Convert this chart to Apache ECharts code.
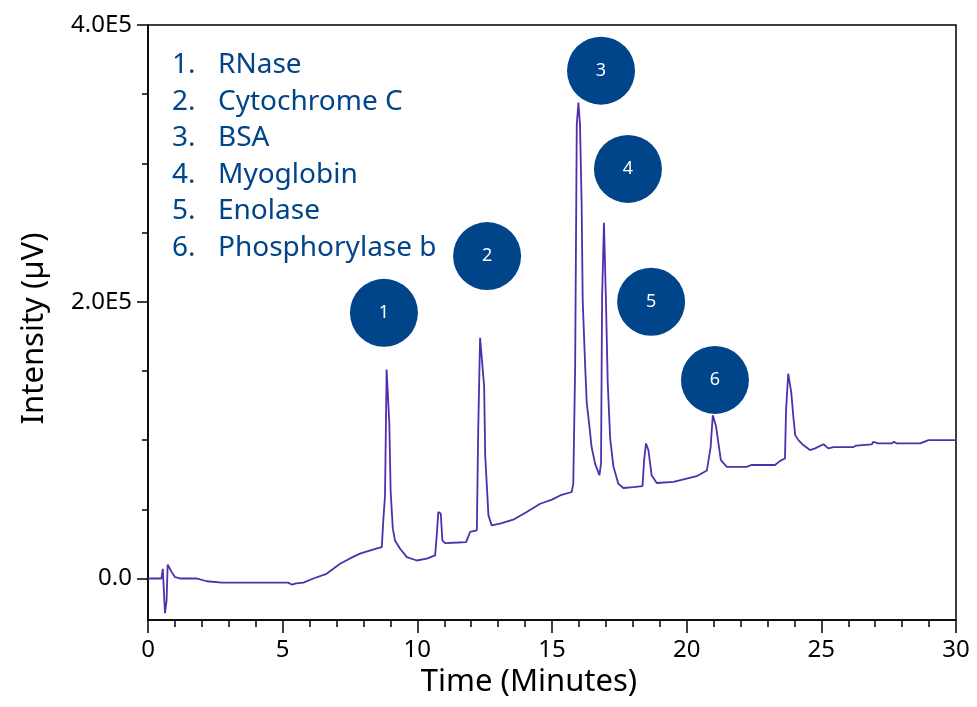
<!DOCTYPE html>
<html>
<head>
<meta charset="utf-8">
<script src="https://cdn.jsdelivr.net/npm/echarts@6/dist/echarts.min.js"></script>
<style>
html,body{margin:0;padding:0;background:#fff;}
#chart{width:977px;height:707px;}
</style>
</head>
<body>
<div id="chart"></div>
<script>
// ---- Data (time in minutes, intensity in µV) ----
const timeMin = [0, 0.50, 0.55, 0.63, 0.69, 0.73, 0.80, 0.88, 1.00, 1.19, 1.80, 2.18, 2.74, 3.50, 4.50, 5.20, 5.35, 5.50, 5.77, 6.14, 6.63, 7.13, 7.50, 7.87, 8.20, 8.54, 8.68, 8.74, 8.80, 8.86, 8.92, 8.96, 9.01, 9.09, 9.17, 9.36, 9.61, 9.98, 10.35, 10.66, 10.72, 10.78, 10.87, 10.93, 11.03, 11.50, 11.81, 11.96, 12.21, 12.26, 12.33, 12.40, 12.48, 12.52, 12.64, 12.76, 13.07, 13.56, 14.06, 14.56, 15.00, 15.30, 15.73, 15.79, 15.86, 15.92, 15.98, 16.04, 16.10, 16.14, 16.23, 16.29, 16.39, 16.47, 16.60, 16.76, 16.82, 16.86, 16.93, 17.00, 17.07, 17.16, 17.28, 17.46, 17.65, 18.02, 18.36, 18.42, 18.49, 18.58, 18.70, 18.89, 19.51, 20.00, 20.37, 20.75, 20.89, 20.97, 21.04, 21.09, 21.18, 21.27, 21.49, 22.23, 22.40, 23.28, 23.47, 23.65, 23.69, 23.77, 23.84, 23.88, 23.96, 24.03, 24.15, 24.33, 24.58, 24.77, 25.08, 25.26, 25.45, 26.19, 26.30, 26.87, 26.93, 27.10, 27.61, 27.70, 27.80, 28.67, 28.73, 28.98, 30.00];
const intensity = [0, 0, 7000, -25000, -16000, 10000, 7500, 4600, 1000, 0, 0, -2000, -3000, -3000, -3000, -3000, -4500, -3500, -3000, 0, 3400, 10600, 14500, 18000, 20000, 22000, 22700, 43000, 60000, 151000, 151000, 112000, 62500, 36000, 27500, 21500, 15400, 13000, 14300, 16700, 31000, 48000, 47000, 27500, 25600, 26000, 26300, 33600, 34800, 107000, 174000, 174000, 139000, 89000, 45600, 38400, 39600, 42500, 48000, 54000, 57000, 60000, 62500, 68600, 154000, 328000, 344000, 328000, 271000, 201000, 154000, 127000, 110000, 95000, 83000, 74600, 83000, 203000, 257000, 203000, 141000, 101000, 81000, 68600, 65400, 66000, 66700, 85500, 97600, 92800, 74600, 69000, 69800, 72200, 73900, 78000, 95000, 118000, 118000, 110000, 97600, 85500, 80700, 80700, 82000, 82000, 85000, 86700, 121700, 148000, 148000, 135000, 117000, 103600, 100000, 96400, 92800, 94000, 97000, 94000, 95000, 95000, 96000, 96900, 98800, 97600, 97600, 98800, 97600, 97600, 98800, 100000, 100000];

const peakLabels = ['1', '2', '3', '4', '5', '6'];
const peakTime = [8.76, 12.59, 16.82, 17.82, 18.68, 21.05];
const peakY = [192000, 233000, 367000, 296000, 200000, 143500];

const proteinNames = ['RNase', 'Cytochrome C', 'BSA', 'Myoglobin', 'Enolase', 'Phosphorylase b'];

const xTicks = [0, 5, 10, 15, 20, 25, 30];
const yMajorTicks = [0, 200000, 400000];
const yMinorTicks = [0, 50000, 100000, 150000, 200000, 250000, 300000, 350000, 400000];
const yTickText = {0: '0.0', 200000: '2.0E5', 400000: '4.0E5'};

// ---- Chart ----
const FONT = 'Noto Sans';
const BLUE = '#00448a';
const chart = echarts.init(document.getElementById('chart'), null, {renderer: 'canvas'});

const legendGraphics = [];
proteinNames.forEach((n, i) => {
  const y = 65 + i * 36.6;
  legendGraphics.push({type: 'text', x: 172, y: y, style: {text: (i + 1) + '.', font: '28px "' + FONT + '"', fill: BLUE, verticalAlign: 'middle', align: 'left'}});
  legendGraphics.push({type: 'text', x: 218, y: y, style: {text: n, font: '28px "' + FONT + '"', fill: BLUE, verticalAlign: 'middle', align: 'left'}});
});

const option = {
  animation: false,
  backgroundColor: '#fff',
  textStyle: {fontFamily: FONT},
  grid: {left: 148, right: 21, top: 25, bottom: 87, show: true, borderColor: '#000', borderWidth: 1.5, containLabel: false},
  xAxis: {
    type: 'value', min: 0, max: 30, interval: 5,
    name: 'Time (Minutes)', nameLocation: 'middle', nameGap: 46,
    nameTextStyle: {fontSize: 31, color: '#000', fontFamily: FONT, padding: [0, 46, 0, 0]},
    axisLine: {show: true, onZero: false, lineStyle: {color: '#000', width: 1.5}},
    axisTick: {show: true, length: 13, lineStyle: {color: '#000', width: 1.5}},
    minorTick: {show: true, splitNumber: 5, length: 7, lineStyle: {color: '#000', width: 1.5}},
    axisLabel: {fontSize: 24, color: '#000', margin: 18, fontFamily: FONT,
      customValues: xTicks},
    splitLine: {show: false}
  },
  yAxis: [{
    type: 'value', min: -30000, max: 400000,
    name: 'Intensity (µV)', nameLocation: 'middle', nameGap: 98,
    nameTextStyle: {fontSize: 31, color: '#000', fontFamily: FONT, padding: [0, 12, 0, 0]},
    axisLine: {show: true, onZero: false, lineStyle: {color: '#000', width: 1.5}},
    axisTick: {show: true, length: 11, customValues: yMajorTicks, lineStyle: {color: '#000', width: 1.5}},
    axisLabel: {fontSize: 24, color: '#000', margin: 16, fontFamily: FONT,
      customValues: yMajorTicks, formatter: v => yTickText[v]},
    splitLine: {show: false}
  }, {
    type: 'value', min: -30000, max: 400000, position: 'left',
    axisLine: {show: false, onZero: false},
    axisTick: {show: true, length: 6, customValues: yMinorTicks, lineStyle: {color: '#000', width: 1.5}},
    axisLabel: {show: false},
    splitLine: {show: false}
  }],
  graphic: legendGraphics,
  series: [{
    type: 'line',
    data: timeMin.map((t, i) => [t, intensity[i]]),
    showSymbol: false,
    lineStyle: {color: '#4f2fab', width: 1.8},
    z: 2
  }, {
    type: 'scatter',
    data: peakTime.map((t, i) => ({value: [t, peakY[i]], name: peakLabels[i]})),
    symbol: 'circle', symbolSize: 68,
    itemStyle: {color: BLUE, opacity: 1},
    label: {show: true, position: 'inside', formatter: p => p.name, color: '#fff', fontSize: 18, fontFamily: FONT},
    z: 3
  }]
};
chart.setOption(option);
</script>
</body>
</html>
